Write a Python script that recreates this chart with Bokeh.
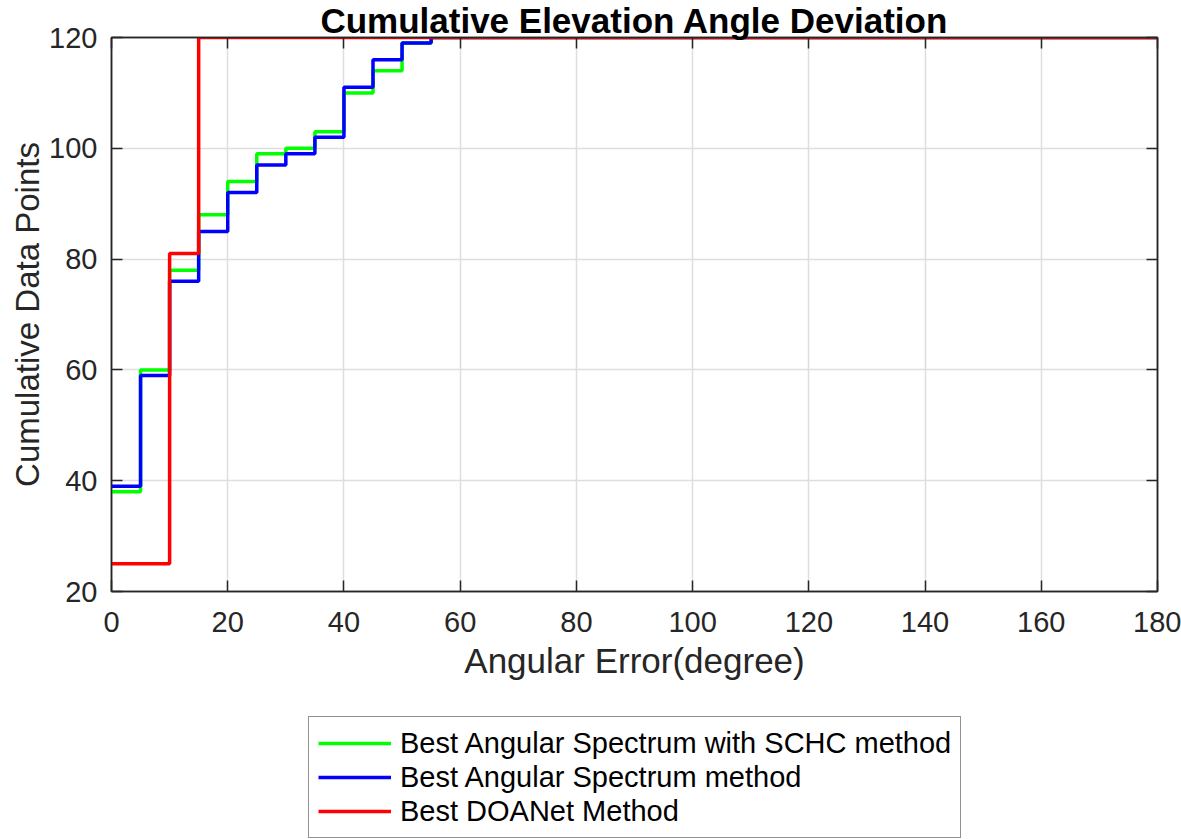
from bokeh.plotting import figure
from bokeh.layouts import column
from bokeh.models import Range1d, LinearAxis, Legend, LegendItem, Title, FixedTicker
from bokeh.embed import file_html
from bokeh.resources import INLINE

# ---- data ----
angle_edges = [0, 5, 10, 15, 20, 25, 30, 35, 40, 45, 50, 55, 180]
schc_counts = [38, 60, 78, 88, 94, 99, 100, 103, 110, 114, 119, 120, 120]
spectrum_counts = [39, 59, 76, 85, 92, 97, 99, 102, 111, 116, 119, 120, 120]
doanet_counts = [25, 25, 81, 120, 120, 120, 120, 120, 120, 120, 120, 120, 120]

series_labels = ["Best Angular Spectrum with SCHC method",
                 "Best Angular Spectrum method",
                 "Best DOANet Method"]
series_colors = ["#00ff00", "#0000ff", "#ff0000"]

x_ticks = [0, 20, 40, 60, 80, 100, 120, 140, 160, 180]
y_ticks = [20, 40, 60, 80, 100, 120]

title_text = "Cumulative Elevation Angle Deviation"
x_label = "Angular Error(degree)"
y_label = "Cumulative Data Points"

FONT = "Liberation Sans"
AX = "#262626"
LW = 3.5

p = figure(width=1181, height=700, output_backend="svg", toolbar_location=None,
           x_range=Range1d(0, 180), y_range=Range1d(20, 120),
           min_border_left=111, min_border_right=24, min_border_top=37,
           min_border_bottom=109)
p.background_fill_color = "white"
p.border_fill_color = "white"
p.outline_line_color = AX
p.outline_line_width = 1.5

p.title = Title(text=title_text, text_font=FONT, text_font_size="35px",
                text_font_style="bold", text_color="black", align="center",
                standoff=-5, offset=0)

for ax in (p.xaxis[0], p.yaxis[0]):
    ax.major_label_text_font = FONT
    ax.major_label_text_font_size = "29px"
    ax.major_label_text_color = AX
    ax.axis_label_text_font = FONT
    ax.axis_label_text_font_style = "normal"
    ax.axis_label_text_color = AX
    ax.axis_line_color = AX
    ax.axis_line_width = 1.5
    ax.major_tick_in = 11
    ax.major_tick_out = 0
    ax.major_tick_line_color = AX
    ax.major_tick_line_width = 1.5
    ax.minor_tick_line_color = None

p.xaxis[0].axis_label_text_font_size = "35px"
p.yaxis[0].axis_label_text_font_size = "33px"
p.xaxis[0].ticker = FixedTicker(ticks=x_ticks)
p.yaxis[0].ticker = FixedTicker(ticks=y_ticks)
p.xaxis[0].axis_label = x_label
p.yaxis[0].axis_label = y_label
p.xaxis[0].major_label_standoff = 20
p.xaxis[0].axis_label_standoff = 6
p.yaxis[0].major_label_standoff = 14
p.yaxis[0].axis_label_standoff = 0

# box-style top/right axes with inner ticks (no labels)
top_ax = LinearAxis(ticker=FixedTicker(ticks=x_ticks),
                    major_label_overrides={t: "" for t in x_ticks},
                    major_label_text_font_size="2px",
                    major_tick_in=11, major_tick_out=0, major_tick_line_color=AX,
                    major_tick_line_width=1.5, minor_tick_line_color=None,
                    axis_line_color=AX, axis_line_width=1.5, major_label_standoff=0)
right_ax = LinearAxis(ticker=FixedTicker(ticks=y_ticks),
                      major_label_overrides={t: "" for t in y_ticks},
                      major_label_text_font_size="2px",
                      major_tick_in=11, major_tick_out=0, major_tick_line_color=AX,
                      major_tick_line_width=1.5, minor_tick_line_color=None,
                      axis_line_color=AX, axis_line_width=1.5, major_label_standoff=0)
p.add_layout(top_ax, "above")
p.add_layout(right_ax, "right")

p.xgrid[0].ticker = FixedTicker(ticks=x_ticks)
p.ygrid[0].ticker = FixedTicker(ticks=y_ticks)
for g in (p.xgrid[0], p.ygrid[0]):
    g.grid_line_color = "#dedede"
    g.grid_line_width = 1.5

renderers = []
for counts, color in zip([schc_counts, spectrum_counts, doanet_counts], series_colors):
    r = p.step(angle_edges, counts, mode="after", line_color=color, line_width=LW)
    renderers.append(r)

# legend panel below the chart (frames are aligned by the column layout)
q = figure(width=1181, height=139, output_backend="svg", toolbar_location=None,
           x_axis_type=None, y_axis_type=None, x_range=Range1d(0, 1), y_range=Range1d(0, 1),
           min_border_left=0, min_border_right=0, min_border_top=0, min_border_bottom=0)
q.outline_line_color = None
q.xgrid.visible = False
q.ygrid.visible = False
nan = float("nan")
proxies = [q.line([nan], [nan], line_color=c, line_width=LW) for c in series_colors]

legend = Legend(items=[LegendItem(label=lab, renderers=[r]) for lab, r in zip(series_labels, proxies)],
                location=(197, 1))
legend.label_text_font = FONT
legend.label_text_font_size = "29px"
legend.label_text_color = "black"
legend.border_line_color = AX
legend.border_line_width = 1.5
legend.background_fill_color = "white"
legend.background_fill_alpha = 1.0
legend.padding = 9
legend.spacing = 0
legend.margin = 0
legend.glyph_width = 73
legend.glyph_height = 34
legend.label_height = 34
legend.label_standoff = 9
q.add_layout(legend)

layout = column(p, q, spacing=0)
open("out.html", "w").write(file_html(layout, INLINE))
